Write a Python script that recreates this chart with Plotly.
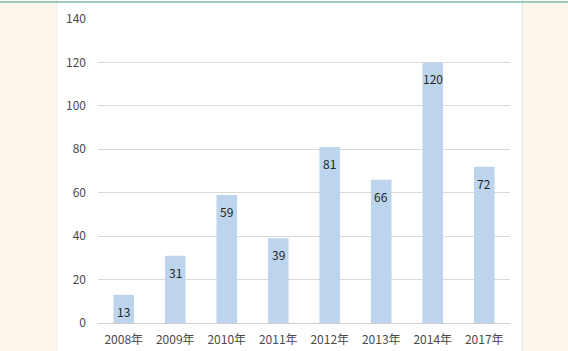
import plotly.graph_objects as go

categories = ["2008年", "2009年", "2010年", "2011年", "2012年", "2013年", "2014年", "2017年"]
values = [13, 31, 59, 39, 81, 66, 120, 72]
y_ticks = [0, 20, 40, 60, 80, 100, 120, 140]

W, H = 568, 351
ML, MR, MT, MB = 98, 58, 19, 28
pw = W - ML - MR
ph = H - MT - MB

def px_x(p):
    return (p - ML) / pw

def px_y(p):
    return 1 + (MT - p) / ph

font_family = "Noto Sans CJK SC, Noto Sans, sans-serif"

fig = go.Figure()
fig.add_trace(go.Bar(
    x=categories, y=values,
    marker=dict(color="#bdd5ec", line=dict(width=0)),
    width=0.4,
    hoverinfo="skip",
))

for c, v in zip(categories, values):
    fig.add_annotation(
        x=c, y=v, text=str(v), showarrow=False,
        yanchor="top", yshift=-6,
        font=dict(family=font_family, size=12, color="#262626"),
    )

shapes = [
    dict(type="rect", xref="paper", yref="paper", x0=px_x(57), x1=px_x(523),
         y0=px_y(H + 5), y1=px_y(-5), fillcolor="white", line=dict(width=0), layer="below"),
    dict(type="line", xref="paper", yref="paper", x0=px_x(522.5), x1=px_x(522.5),
         y0=px_y(H + 5), y1=px_y(-5), line=dict(color="#e6e6e6", width=1.5), layer="below"),
    dict(type="line", xref="paper", yref="paper", x0=px_x(57), x1=px_x(57),
         y0=px_y(H + 5), y1=px_y(-5), line=dict(color="#f0eee8", width=1), layer="below"),
    dict(type="line", xref="paper", yref="paper", x0=px_x(0), x1=px_x(W),
         y0=px_y(2), y1=px_y(2), line=dict(color="#7dbdb2", width=1.5), layer="above"),
]

fig.update_layout(
    width=W, height=H,
    margin=dict(l=ML, r=MR, t=MT, b=MB, pad=0, autoexpand=False),
    paper_bgcolor="#fdf7ec",
    plot_bgcolor="white",
    showlegend=False,
    shapes=shapes,
    xaxis=dict(
        type="category",
        automargin=False,
        showgrid=False,
        showline=False,
        ticks="",
        tickfont=dict(family=font_family, size=12, color="#4a4a4a"),
        ticklabelstandoff=8,
        fixedrange=True,
    ),
    yaxis=dict(
        range=[0, 140],
        automargin=False,
        tickvals=y_ticks,
        showgrid=True,
        gridcolor="#d9d9d9",
        gridwidth=1,
        zeroline=True,
        zerolinecolor="#d0d0d0",
        zerolinewidth=1,
        showline=False,
        ticks="",
        tickfont=dict(family=font_family, size=12, color="#4a4a4a"),
        ticklabelstandoff=11,
        fixedrange=True,
    ),
)

fig.write_html("out.html")
